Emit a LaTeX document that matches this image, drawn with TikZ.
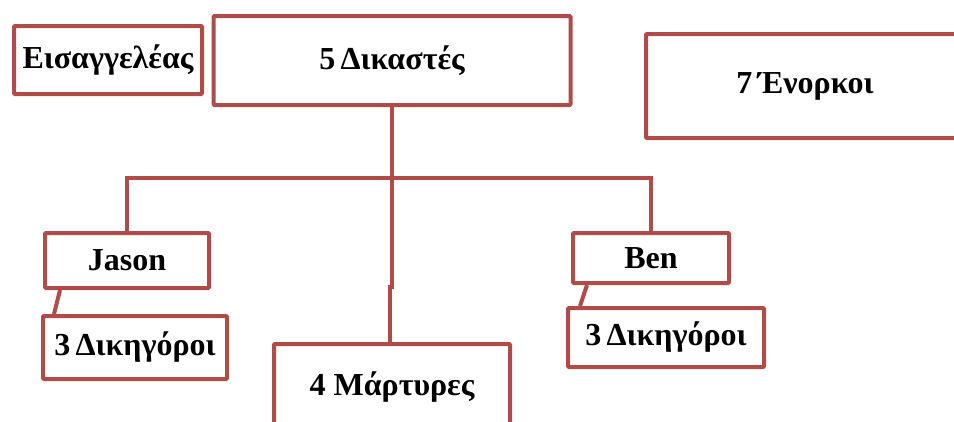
\documentclass[tikz,border=0pt]{standalone}
\usepackage{fontspec}
\setmainfont{Liberation Serif}
\definecolor{boxred}{RGB}{176,76,72}
\tikzset{
  box/.style={draw=boxred, line width=4pt, rounded corners=1pt, fill=white,
    inner sep=0pt, font=\fontsize{32}{38}\selectfont\bfseries},
  conn/.style={draw=boxred, line width=4pt, line join=miter}
}
\begin{document}
\begin{tikzpicture}[x=1pt,y=-1pt]
\useasboundingbox (0,0) rectangle (954,421);
\begin{scope}
\clip (0,0) rectangle (954,421);
\coordinate (hub) at (392,178);
\coordinate (hl) at (127,178);
\coordinate (hr) at (651,178);
\coordinate (j1) at (392,287);
\coordinate (j2) at (390,287);
\node[box, minimum width=188pt, minimum height=68pt] (eis) at (108,60) {Εισαγγελέας};
\node[box, minimum width=357pt, minimum height=89pt] (dik) at (392,60.5) {5\,Δικαστές};
\node[box, minimum width=318pt, minimum height=104pt] (enor) at (805,86) {7\,Ένορκοι};
\node[box, minimum width=164pt, minimum height=55pt] (jason) at (127,260.5) {Jason};
\node[box, minimum width=184pt, minimum height=63pt] (jlaw) at (135,347.5) {3\,Δικηγόροι};
\node[box, minimum width=236pt, minimum height=86pt] (mart) at (392,387) {4 Μάρτυρες};
\node[box, minimum width=156pt, minimum height=50pt] (ben) at (651,258) {Ben};
\node[box, minimum width=196pt, minimum height=59pt] (blaw) at (666,337.5) {3\,Δικηγόροι};
\draw[conn] (dik.south) -- (hub);
\draw[conn] (jason.north) -- (hl) -- (hr) -- (ben.north);
\draw[conn] (hub) -- (j1) -- (j2) -- (j2 |- mart.north);
\draw[conn] ([xshift=-67pt]jason.south) -- ([xshift=-81pt]jlaw.north);
\draw[conn] ([xshift=-64pt]ben.south) -- ([xshift=-86pt]blaw.north);
\end{scope}
\end{tikzpicture}
\end{document}
